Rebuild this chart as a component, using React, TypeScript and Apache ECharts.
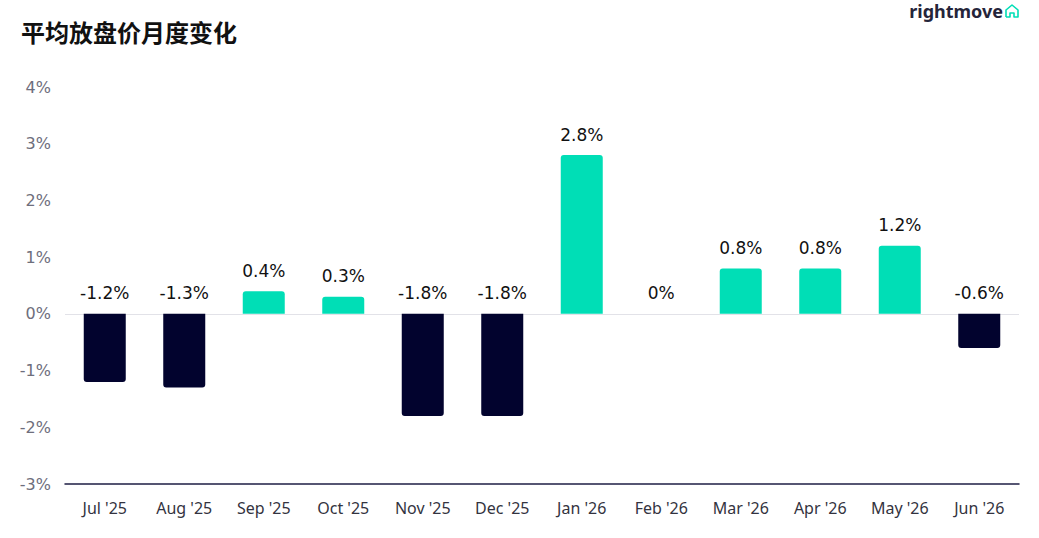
import React, { useEffect, useRef } from "react";
import * as echarts from "echarts";

const categories = ["Jul '25", "Aug '25", "Sep '25", "Oct '25", "Nov '25", "Dec '25", "Jan '26", "Feb '26", "Mar '26", "Apr '26", "May '26", "Jun '26"];
const values = [-1.2, -1.3, 0.4, 0.3, -1.8, -1.8, 2.8, 0, 0.8, 0.8, 1.2, -0.6];
const yTicks = { min: -3, max: 4, interval: 1 };
const titleText = "平均放盘价月度变化";
const logoText = "rightmove";

const NAVY = "#02032e";
const TEAL = "#00deb6";
const FONT = "'Noto Sans', 'Noto Sans CJK SC', sans-serif";
const WIDE = "'DejaVu Sans', 'Noto Sans', sans-serif";

export default function App() {
  const ref = useRef<HTMLDivElement>(null);
  useEffect(() => {
    if (!ref.current) return;
    const chart = echarts.init(ref.current, undefined, { renderer: "svg" });
    chart.setOption({
      animation: false,
      backgroundColor: "#ffffff",
      textStyle: { fontFamily: FONT },
      title: {
        text: titleText,
        left: 16,
        top: 14,
        textStyle: { fontFamily: "'Noto Sans CJK SC', sans-serif", fontSize: 24, fontWeight: "bold", color: "#111111" },
      },
      graphic: [
        {
          type: "text",
          right: 36,
          top: 2,
          style: { text: logoText, fontFamily: "'Noto Sans', sans-serif", fontSize: 18, fontWeight: "bold", fill: "#25253a" },
        },
        {
          type: "polyline",
          shape: { points: [[1006, 17], [1006, 10], [1012, 5], [1018, 10], [1018, 17], [1014, 17], [1014, 13], [1010, 13], [1010, 17], [1006, 17]] },
          style: { stroke: TEAL, lineWidth: 1.6, fill: "none", lineJoin: "round" },
        },
      ],
      grid: { left: 65, right: 20, top: 87, bottom: 54 },
      xAxis: {
        type: "category",
        data: categories,
        position: "bottom",
        axisLine: { onZero: false, lineStyle: { color: "#1e1e44", width: 1.5 } },
        axisTick: { show: false },
        axisLabel: { color: "#333340", fontSize: 16, margin: 16, fontFamily: FONT },
      },
      yAxis: {
        type: "value",
        min: yTicks.min,
        max: yTicks.max,
        interval: yTicks.interval,
        splitLine: { show: false },
        axisLine: { show: false },
        axisTick: { show: false },
        axisLabel: { formatter: "{value}%", color: "#6e6e7c", fontSize: 16, margin: 14, fontFamily: WIDE },
      },
      series: [
        {
          type: "bar",
          barWidth: 42,
          data: values.map((v) => ({
            value: v,
            itemStyle: { color: v >= 0 ? TEAL : NAVY, borderRadius: v >= 0 ? [3, 3, 0, 0] : [0, 0, 3, 3] },
          })),
          label: {
            show: true,
            position: "top",
            distance: 12,
            formatter: (p: any) => `${p.value}%`,
            color: "#111111",
            fontSize: 17,
            fontFamily: WIDE,
          },
          markLine: {
            silent: true,
            symbol: "none",
            label: { show: false },
            lineStyle: { color: "#e2e2e8", width: 1, type: "solid" },
            data: [{ yAxis: 0 }],
            z: 1,
          },
        },
      ],
    });
    return () => chart.dispose();
  }, []);
  return <div ref={ref} style={{ position: "fixed", left: 0, top: 0, width: 1039, height: 538 }} />;
}
